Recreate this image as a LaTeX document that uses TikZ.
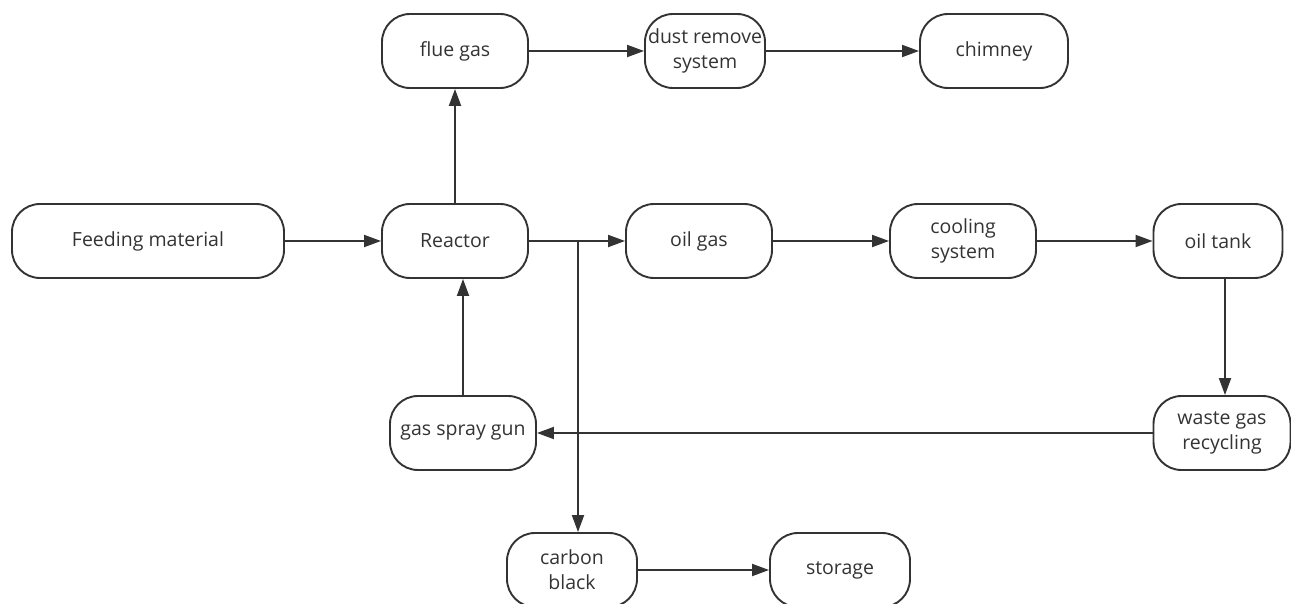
\documentclass[tikz,border=0pt]{standalone}
\usepackage{fontspec}
\setmainfont{Open Sans}
\usepackage{tikz}
\usetikzlibrary{arrows.meta,positioning}
\definecolor{lineclr}{HTML}{333333}
\tikzset{
  procbox/.style={draw=lineclr, line width=1.9pt, rounded corners=28pt, minimum width=146pt,
    minimum height=74pt, align=center, text=lineclr, font=\fontsize{19.5}{25}\selectfont, inner sep=1pt},
  flow/.style={draw=lineclr, line width=1.9pt, -{Triangle[length=17pt,width=12pt]}}
}
\begin{document}
\begin{tikzpicture}[x=1pt,y=-1pt]
\useasboundingbox (0,0) rectangle (1291,604);
% top row
\node[procbox] (flue) at (455,51) {flue gas};
\node[procbox, minimum width=120pt] (dust) at (705,51) {dust remove\\system};
\node[procbox, minimum width=148pt] (chimney) at (994,51) {chimney};
% middle row
\node[procbox, minimum width=272pt] (feed) at (148,241) {Feeding material};
\node[procbox] (reactor) at (455,241) {Reactor};
\node[procbox] (oilgas) at (699,241) {oil gas};
\node[procbox] (cooling) at (963,241) {cooling\\system};
\node[procbox, minimum width=129pt] (tank) at (1218,241) {oil tank};
% lower rows
\node[procbox] (spray) at (463,433) {gas spray gun};
\node[procbox, minimum width=137pt] (waste) at (1222,433) {waste gas\\recycling};
\node[procbox, minimum width=130pt] (carbon) at (572,570) {carbon\\black};
\node[procbox, minimum width=140pt] (storage) at (840,570) {storage};
\coordinate (split) at (578,241);
% connectors
\draw[flow] (flue) -- (dust);
\draw[flow] (dust) -- (chimney);
\draw[flow] (feed) -- (reactor);
\draw[flow] (reactor) -- (flue);
\draw[flow] (reactor) -- (oilgas);
\draw[flow] (oilgas) -- (cooling);
\draw[flow] (cooling) -- (tank);
\draw[flow] (tank.south -| 1225,0) -- (waste.north -| 1225,0);
\draw[flow] (waste) -- (spray);
\draw[flow] (spray.north) -- (spray.north |- reactor.south);
\draw[flow] (split) -- (split |- carbon.north);
\draw[flow] (carbon) -- (storage);
\end{tikzpicture}
\end{document}
